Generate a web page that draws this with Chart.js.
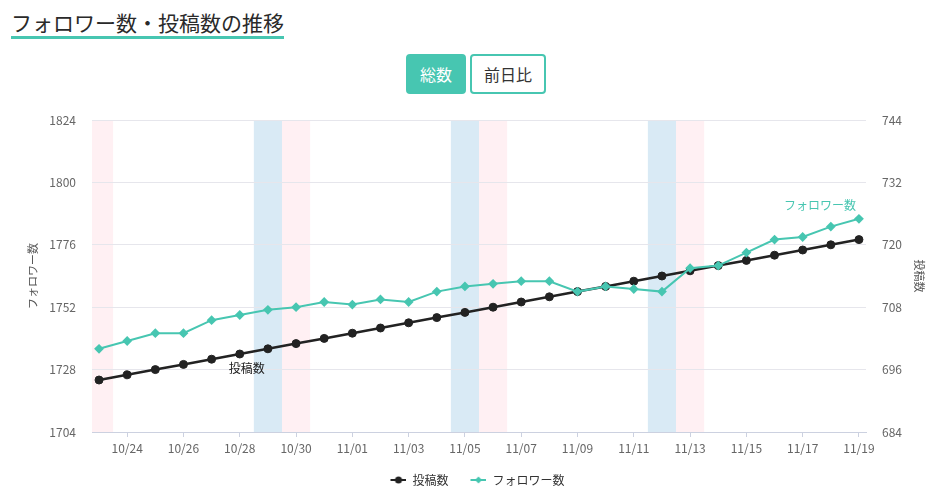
<!DOCTYPE html>
<html lang="ja">
<head>
<meta charset="utf-8">
<title>フォロワー数・投稿数の推移</title>
<script src="https://cdn.jsdelivr.net/npm/chart.js@4.4.1/dist/chart.umd.min.js"></script>
<style>
  body { margin: 0; background: #fff; font-family: "Noto Sans CJK JP", "Noto Sans", sans-serif; color: #333; }
  .title {
    position: absolute; left: 11px; top: 12px; margin: 0;
    font-size: 21px; font-weight: normal; line-height: 21px; color: #2a2a2a;
    padding-bottom: 3px; border-bottom: 3px solid #47c6b1;
  }
  .btn {
    position: absolute; top: 54px; height: 40px; box-sizing: border-box;
    border-radius: 4px; font-size: 16px; line-height: 36px; text-align: center;
    border: 2px solid #47c6b1;
  }
  .btn.on { left: 406px; width: 60px; background: #47c6b1; color: #fff; }
  .btn.off { left: 470px; width: 76px; background: #fff; color: #333; }
  #wrap { position: absolute; left: 0; top: 100px; width: 943px; height: 402px; }
</style>
</head>
<body>
<h2 class="title">フォロワー数・投稿数の推移</h2>
<div class="btn on">総数</div>
<div class="btn off">前日比</div>
<div id="wrap"><canvas id="myChart"></canvas></div>
<script>
// data
const dates = ['10/23', '10/24', '10/25', '10/26', '10/27', '10/28', '10/29', '10/30', '10/31',
  '11/01', '11/02', '11/03', '11/04', '11/05', '11/06', '11/07', '11/08', '11/09', '11/10',
  '11/11', '11/12', '11/13', '11/14', '11/15', '11/16', '11/17', '11/18', '11/19'];
const posts = [694, 695, 696, 697, 698, 699, 700, 701, 702, 703, 704, 705, 706, 707,
  708, 709, 710, 711, 712, 713, 714, 715, 716, 717, 718, 719, 720, 721];
const followers = [1736, 1739, 1742, 1742, 1747, 1749, 1751, 1752, 1754, 1753, 1755, 1754, 1758, 1760,
  1761, 1762, 1762, 1758, 1760, 1759, 1758, 1767, 1768, 1773, 1778, 1779, 1783, 1786];
const saturdays = ['10/29', '11/05', '11/12'];
const sundays = ['10/23', '10/30', '11/06', '11/13'];
const followerTicks = [1704, 1728, 1752, 1776, 1800, 1824];
const postTicks = [684, 696, 708, 720, 732, 744];

const TEAL = '#47c6b1';
const DARK = '#222222';

// little line+marker icons for the legend
function legendIcon(color, style) {
  const c = document.createElement('canvas');
  c.width = 28; c.height = 10;
  const g = c.getContext('2d');
  g.strokeStyle = color; g.lineWidth = 2;
  g.beginPath(); g.moveTo(12, 5); g.lineTo(28, 5); g.stroke();
  g.fillStyle = color;
  g.beginPath();
  if (style === 'circle') {
    g.arc(20, 5, 3.5, 0, Math.PI * 2);
  } else {
    g.moveTo(20, 1.5); g.lineTo(23.5, 5); g.lineTo(20, 8.5); g.lineTo(16.5, 5); g.closePath();
  }
  g.fill();
  return c;
}

// weekend shading behind everything
const weekendBands = {
  id: 'weekendBands',
  beforeDraw(chart) {
    const { ctx, chartArea: a, scales: { x } } = chart;
    ctx.save();
    ctx.beginPath();
    ctx.rect(a.left, a.top, a.width, a.height);
    ctx.clip();
    const paint = (list, color) => list.forEach(d => {
      const i = dates.indexOf(d);
      const x0 = x.getPixelForValue(i - 0.5);
      const x1 = x.getPixelForValue(i + 0.5);
      ctx.fillStyle = color;
      ctx.fillRect(x0, a.top, x1 - x0, a.height);
    });
    paint(saturdays, '#d9eaf5');
    paint(sundays, '#fff0f3');
    ctx.restore();
  }
};

// series name labels next to the lines
const seriesLabels = {
  id: 'seriesLabels',
  afterDatasetsDraw(chart) {
    const { ctx, scales: { x, y, y2 } } = chart;
    const last = dates.length - 1;
    ctx.save();
    ctx.font = '12px "Noto Sans CJK JP"';
    ctx.textBaseline = 'middle';
    ctx.fillStyle = TEAL;
    ctx.textAlign = 'right';
    ctx.fillText('フォロワー数', x.getPixelForValue(last) - 3, y.getPixelForValue(followers[last]) - 13);
    ctx.fillStyle = DARK;
    ctx.textAlign = 'center';
    ctx.fillText('投稿数', x.getPixelForValue(5) + 7, y2.getPixelForValue(posts[5]) + 14);
    ctx.restore();
  }
};

Chart.defaults.font.family = '"Noto Sans CJK JP", "Noto Sans", sans-serif';
Chart.defaults.color = '#666';

const ctx = document.getElementById('myChart').getContext('2d');
new Chart(ctx, {
  type: 'line',
  data: {
    datasets: [{
      label: '投稿数',
      data: posts.map((v, i) => ({ x: i, y: v })),
      yAxisID: 'y2',
      borderColor: DARK,
      backgroundColor: DARK,
      borderWidth: 2.5,
      pointRadius: 4,
      pointBorderWidth: 1,
      pointStyle: 'circle',
      order: 1,
    }, {
      label: 'フォロワー数',
      data: followers.map((v, i) => ({ x: i, y: v })),
      yAxisID: 'y',
      borderColor: TEAL,
      backgroundColor: TEAL,
      borderWidth: 2,
      pointRadius: 3.5,
      pointStyle: 'rectRot',
      order: 0,
    }],
  },
  options: {
    responsive: true,
    maintainAspectRatio: false,
    animation: false,
    layout: { padding: { top: 20, bottom: 6, left: 0, right: 0 } },
    plugins: {
      tooltip: { enabled: false },
      legend: {
        position: 'bottom',
        labels: {
          usePointStyle: true,
          pointStyleWidth: 28,
          boxHeight: 10,
          padding: 10,
          color: '#333',
          font: { size: 12 },
          generateLabels: () => [
            { text: '投稿数', pointStyle: legendIcon(DARK, 'circle'), fillStyle: DARK, strokeStyle: DARK, lineWidth: 0, hidden: false, datasetIndex: 0, fontColor: '#333' },
            { text: 'フォロワー数', pointStyle: legendIcon(TEAL, 'diamond'), fillStyle: TEAL, strokeStyle: TEAL, lineWidth: 0, hidden: false, datasetIndex: 1, fontColor: '#333' },
          ],
        },
      },
    },
    scales: {
      x: {
        type: 'linear',
        min: -0.25,
        max: dates.length - 0.75,
        afterBuildTicks: axis => {
          axis.ticks = dates.map((d, i) => ({ value: i })).filter(t => t.value % 2 === 1);
        },
        afterFit: axis => { axis.height = 32; },
        ticks: {
          autoSkip: false,
          maxRotation: 0,
          padding: 4,
          font: { size: 12 },
          callback: v => dates[v],
        },
        grid: { drawOnChartArea: false, tickLength: 5, color: '#ccd1e0' },
        border: { color: '#ccd1e0' },
      },
      y: {
        position: 'left',
        min: followerTicks[0],
        max: followerTicks[followerTicks.length - 1],
        afterBuildTicks: axis => { axis.ticks = followerTicks.map(v => ({ value: v })); },
        afterFit: axis => { axis.width = 92; },
        ticks: { padding: 0, font: { size: 12 }, callback: v => String(v) },
        grid: { color: '#e6e6ec', tickLength: 16, tickColor: 'rgba(0,0,0,0)' },
        border: { display: false },
        title: { display: true, text: 'フォロワー数', color: '#555', font: { size: 11 }, padding: { top: 26 } },
      },
      y2: {
        position: 'right',
        min: postTicks[0],
        max: postTicks[postTicks.length - 1],
        afterBuildTicks: axis => { axis.ticks = postTicks.map(v => ({ value: v })); },
        afterFit: axis => { axis.width = 77; },
        ticks: { padding: 0, font: { size: 12 }, callback: v => String(v) },
        grid: { drawOnChartArea: false, tickLength: 16, tickColor: 'rgba(0,0,0,0)' },
        border: { display: false },
        title: { display: true, text: '投稿数', color: '#555', font: { size: 11 }, padding: { top: 17 } },
      },
    },
  },
  plugins: [weekendBands, seriesLabels],
});
</script>
</body>
</html>
